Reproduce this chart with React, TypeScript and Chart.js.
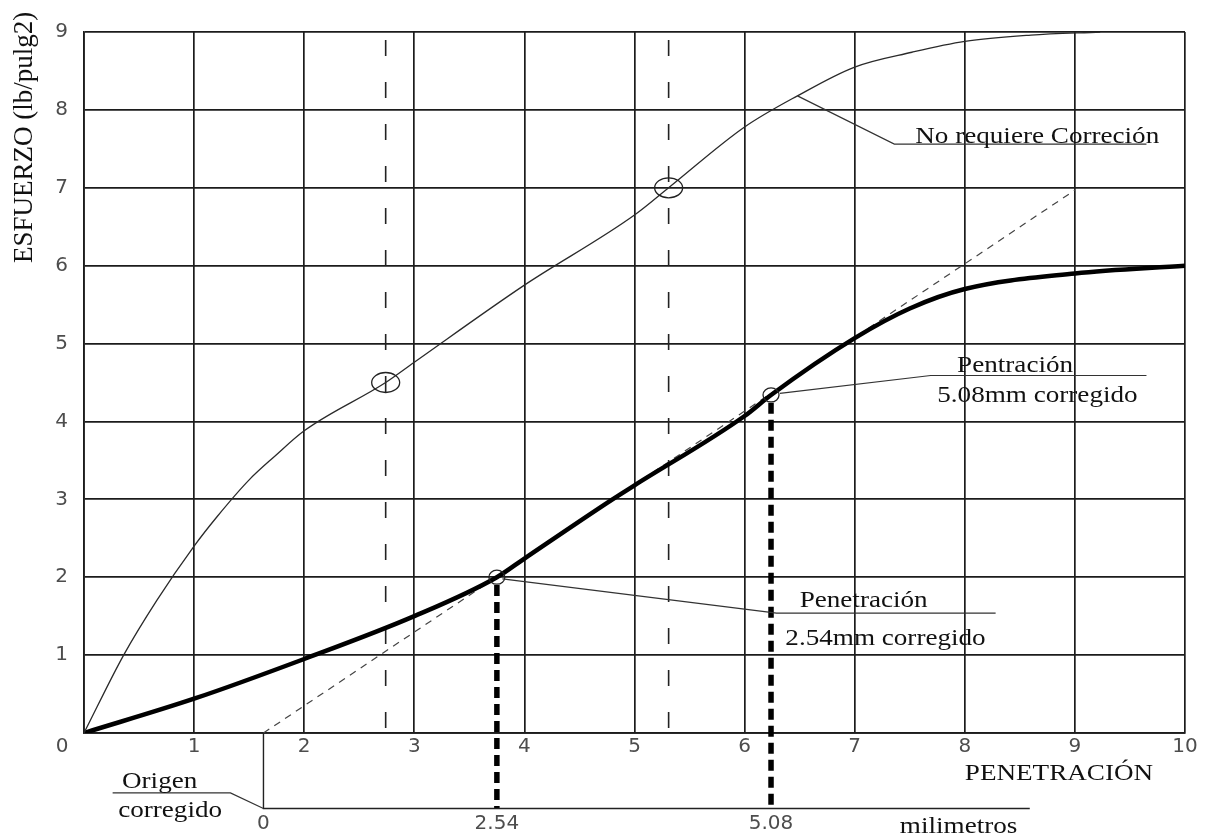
import React, { useEffect, useRef } from 'react';
import { Chart, registerables } from 'chart.js';

Chart.register(...registerables);

// ---------- data ----------
const xMin = 0;
const xMax = 10;
const yMin = 0;
const yMax = 9;

// curve that needs no correction (thin)
const uncorrectedX = [0, 0.36, 0.66, 1.0, 1.21, 1.5, 1.73, 2.0, 2.74, 3.0, 4.0, 5.0, 5.31, 6.0, 6.48, 7.0, 7.52, 8.0, 8.6, 9.23];
const uncorrectedY = [0, 1.0, 1.7, 2.4, 2.78, 3.25, 3.55, 3.88, 4.5, 4.76, 5.75, 6.65, 7.0, 7.78, 8.18, 8.55, 8.74, 8.88, 8.96, 9.0];

// curve that requires correction (thick)
const correctedX = [0, 1, 2, 3, 3.75, 4, 4.8, 5, 6, 6.24, 7, 7.5, 8, 9, 10];
const correctedY = [0, 0.44, 0.95, 1.5, 2.0, 2.24, 3.0, 3.18, 4.07, 4.34, 5.07, 5.45, 5.7, 5.9, 6.0];

// tangent through the straight part (corrected origin)
const tangentX = [1.63, 9.0];
const tangentY = [0, 6.97];

// vertical long-dashed guides
const guideX = [2.74, 5.31];

// markers
const upperMarkX = [2.74, 5.31];
const upperMarkY = [4.5, 7.0];
const lowerMarkX = [3.75, 6.24];
const lowerMarkY = [2.0, 4.34];

// corrected millimetre axis
const correctedAxisLevel = -0.97;
const correctedAxisEnd = 8.59;
const correctedTickPositions = [1.63, 3.75, 6.24];
const correctedTickLabels = ['0', '2.54', '5.08'];
const correctedLabelLevel = -1.16;

// texts (left, baseline) in data units
const calloutTexts = ['No requiere Correción', 'Pentración', '5.08mm corregido', 'Penetración', '2.54mm corregido', 'PENETRACIÓN', 'Origen', 'corregido', 'milimetros'];
const calloutX = [7.55, 7.93, 7.75, 6.5, 6.37, 8.0, 0.345, 0.31, 7.41];
const calloutY = [7.58, 4.63, 4.25, 1.62, 1.13, -0.6, -0.71, -1.08, -1.29];

// leader polylines in data units
const leaderLines: number[][][] = [
  [[6.48, 8.18], [7.36, 7.56], [9.65, 7.56]],
  [[6.32, 4.36], [7.69, 4.59], [9.65, 4.59]],
  [[3.8, 1.98], [6.29, 1.54], [8.28, 1.54]],
  [[1.63, correctedAxisLevel], [1.33, -0.77], [0.26, -0.77]],
];

const yTitle = 'ESFUERZO (lb/pulg2)';

// ---------- styles ----------
const SERIF = '"Liberation Serif", "Times New Roman", serif';
const SANS = '"DejaVu Sans", "Liberation Sans", sans-serif';
const GRID = '#1c1c1c';
const TICK = '#4d4d4d';
const INK = '#111111';

const pts = (xs: number[], ys: number[]) => xs.map((x, i) => ({ x, y: ys[i] }));

function drawStretched(ctx: CanvasRenderingContext2D, text: string, x: number, y: number, size: number, stretch: number) {
  ctx.save();
  ctx.font = `${size}px ${SERIF}`;
  ctx.fillStyle = INK;
  ctx.textAlign = 'left';
  ctx.textBaseline = 'alphabetic';
  ctx.translate(x, y);
  ctx.scale(stretch, 1);
  ctx.fillText(text, 0, 0);
  ctx.restore();
}

const overlayPlugin = {
  id: 'overlay',
  afterDatasetsDraw(chart: any) {
    const ctx: CanvasRenderingContext2D = chart.ctx;
    const xs = chart.scales.x;
    const ys = chart.scales.y;
    const px = (v: number) => xs.getPixelForValue(v);
    const py = (v: number) => ys.getPixelForValue(v);

    // markers (ellipses)
    ctx.save();
    ctx.strokeStyle = '#222';
    ctx.lineWidth = 1.3;
    upperMarkX.forEach((x, i) => {
      ctx.beginPath();
      ctx.ellipse(px(x), py(upperMarkY[i]), 14, 10, 0, 0, Math.PI * 2);
      ctx.stroke();
    });
    lowerMarkX.forEach((x, i) => {
      ctx.beginPath();
      ctx.ellipse(px(x), py(lowerMarkY[i]), 8, 7, 0, 0, Math.PI * 2);
      ctx.stroke();
    });
    ctx.restore();

    // leader lines
    ctx.save();
    ctx.strokeStyle = '#333';
    ctx.lineWidth = 1.2;
    leaderLines.forEach((line) => {
      ctx.beginPath();
      line.forEach(([x, y], i) => {
        if (i === 0) ctx.moveTo(px(x), py(y));
        else ctx.lineTo(px(x), py(y));
      });
      ctx.stroke();
    });

    // corrected axis
    ctx.strokeStyle = '#222';
    ctx.lineWidth = 1.4;
    ctx.beginPath();
    ctx.moveTo(px(correctedTickPositions[0]), py(0));
    ctx.lineTo(px(correctedTickPositions[0]), py(correctedAxisLevel));
    ctx.lineTo(px(correctedAxisEnd), py(correctedAxisLevel));
    ctx.stroke();
    ctx.restore();

    // corrected axis labels
    ctx.save();
    ctx.font = `20px ${SANS}`;
    ctx.fillStyle = TICK;
    ctx.textAlign = 'center';
    ctx.textBaseline = 'middle';
    correctedTickPositions.forEach((x, i) => {
      ctx.fillText(correctedTickLabels[i], px(x), py(correctedLabelLevel));
    });
    // shared origin label "0"
    ctx.fillText('0', px(0) - 22, py(0) + 14);
    ctx.restore();

    // callout texts
    calloutTexts.forEach((t, i) => {
      drawStretched(ctx, t, px(calloutX[i]), py(calloutY[i]), 24, 1.13);
    });

    // y title
    ctx.save();
    ctx.font = `27px ${SERIF}`;
    ctx.fillStyle = INK;
    ctx.translate(32, 263);
    ctx.rotate(-Math.PI / 2);
    ctx.textAlign = 'left';
    ctx.textBaseline = 'alphabetic';
    ctx.fillText(yTitle, 0, 0);
    ctx.restore();
  },
};

export default function App() {
  const canvasRef = useRef<HTMLCanvasElement | null>(null);

  useEffect(() => {
    if (!canvasRef.current) return;
    const lineBase = { pointRadius: 0, fill: false };
    const chart = new Chart(canvasRef.current, {
      type: 'line',
      data: {
        datasets: [
          {
            ...lineBase,
            data: pts(uncorrectedX, uncorrectedY),
            borderColor: '#2a2a2a',
            borderWidth: 1.3,
            cubicInterpolationMode: 'monotone',
          },
          {
            ...lineBase,
            data: pts(correctedX, correctedY),
            borderColor: '#000',
            borderWidth: 4.5,
            cubicInterpolationMode: 'monotone',
          },
          {
            ...lineBase,
            data: pts(tangentX, tangentY),
            borderColor: '#444',
            borderWidth: 1.2,
            borderDash: [7, 6],
            tension: 0,
          },
          ...guideX.map((gx) => ({
            ...lineBase,
            data: [{ x: gx, y: yMax }, { x: gx, y: yMin }],
            borderColor: '#222',
            borderWidth: 1.6,
            borderDash: [16, 26],
            borderDashOffset: 34,
            tension: 0,
          })),
          ...lowerMarkX.map((mx, i) => ({
            ...lineBase,
            data: [{ x: mx, y: lowerMarkY[i] - 0.1 }, { x: mx, y: correctedAxisLevel }],
            borderColor: '#000',
            borderWidth: 5.5,
            borderDash: [11, 6],
            tension: 0,
            clip: false as any,
          })),
        ] as any,
      },
      options: {
        animation: false,
        responsive: false,
        events: [],
        layout: { padding: { left: 0, top: 32, right: 26, bottom: 0 } },
        plugins: { legend: { display: false }, tooltip: { enabled: false } },
        scales: {
          x: {
            type: 'linear',
            min: xMin,
            max: xMax,
            ticks: {
              stepSize: 1,
              padding: 2,
              color: TICK,
              font: { family: SANS, size: 20 },
              callback: (v: any) => (v === 0 ? '' : String(v)),
              maxRotation: 0,
            },
            grid: { color: GRID, lineWidth: 1.7, drawTicks: false },
            border: { display: true, color: GRID, width: 1.7 },
            afterFit: (s: any) => {
              s.height = 103;
            },
          },
          y: {
            type: 'linear',
            min: yMin,
            max: yMax,
            ticks: {
              stepSize: 1,
              padding: 16,
              color: TICK,
              font: { family: SANS, size: 20 },
              callback: (v: any) => (v === 0 ? '' : String(v)),
            },
            grid: { color: GRID, lineWidth: 1.7, drawTicks: false },
            border: { display: true, color: GRID, width: 1.7 },
            afterFit: (s: any) => {
              s.width = 84;
            },
          },
        },
      } as any,
      plugins: [overlayPlugin],
    });
    return () => chart.destroy();
  }, []);

  return (
    <div style={{ position: 'absolute', left: 0, top: 0, width: 1211, height: 836, background: '#fff' }}>
      <canvas ref={canvasRef} width={1211} height={836} />
    </div>
  );
}
